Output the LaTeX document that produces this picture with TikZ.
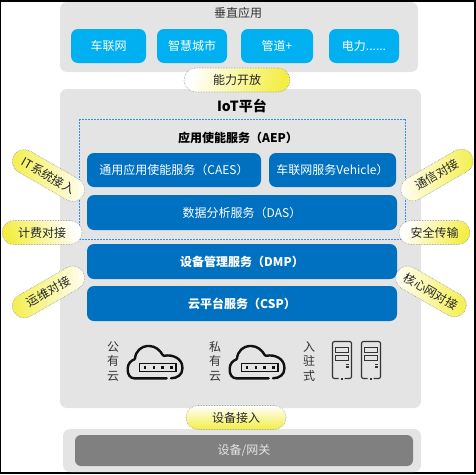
\documentclass[tikz,border=0pt]{standalone}
\usepackage{fontspec}
\setmainfont{Noto Sans CJK SC}
\usepackage{tikz}

\definecolor{panelgray}{HTML}{E4E4E4}
\definecolor{tilecyan}{HTML}{00B0F0}
\definecolor{tileblue}{HTML}{0070C0}
\definecolor{pillyellow}{HTML}{F3EE45}
\definecolor{gatewaygray}{HTML}{808080}
\definecolor{iconblack}{HTML}{111111}
\definecolor{textgray}{HTML}{333333}
\definecolor{aepblue}{RGB}{46,143,240}

\tikzset{
  panel/.style={fill=panelgray, rounded corners=7pt},
  tile/.style={fill=#1, rounded corners=7pt, text=white, inner sep=0pt, font=\fontsize{12}{14}\selectfont},
  boldtile/.style={tile=tileblue, minimum width=310pt, minimum height=35pt, font=\bfseries\fontsize{12}{14}\selectfont},
  pill/.style={draw=gray!80, densely dotted, line width=0.6pt, rounded corners=12pt, inner sep=0pt,
    minimum height=24pt, text=black!85, font=\fontsize{12}{14}\selectfont},
  cloudicon/.pic={
    \draw[iconblack, line width=2.4pt, line cap=round, rounded corners=1pt]
      (39.7,33.3) -- (8,33.3) .. controls (3,33.3) and (0.7,29) .. (0.7,24.3)
      .. controls (0.7,19) and (4,15.5) .. (8,14.3)
      .. controls (8.5,6) and (15,1) .. (21.3,1)
      .. controls (28,1) and (33,5) .. (36.3,11)
      .. controls (46,9) and (55.3,14) .. (55.3,23)
      .. controls (55.3,29) and (51,33.3) .. (44,33.3);
    \draw[iconblack, line width=1.4pt] (12.3,18.3) rectangle (49,26.7);
    \foreach \dotx in {18,27,35.7,44.7} {
      \fill[iconblack] (\dotx-1.3,21.2) rectangle (\dotx+1.3,23.8);
    }
  },
  servericon/.pic={
    \draw[gray!40!black, line width=1.2pt, rounded corners=2pt]
      (6,37) -- (0,37) -- (0,0) -- (19,0) -- (19,37) -- (12,37);
    \draw[gray!40!black, line width=0.9pt] (3.3,5.7) rectangle (16,11);
    \draw[gray!40!black, line width=0.9pt] (3.3,13.7) rectangle (16,19);
    \fill[gray!40!black] (13.5,22) rectangle (16,23.5);
    \fill[gray!40!black] (13.5,24.7) rectangle (16,26.2);
    \fill[gray!40!black] (8,36) rectangle (10,38);
  },
}

\begin{document}
\begin{tikzpicture}[x=1pt, y=-1pt]
\useasboundingbox (0,0) rectangle (476,474);

% Frame
\draw[black, line width=1.5pt] (0.5,0.8) rectangle (475.2,473);

% Top panel
\fill[panel] (60,2) rectangle (418,72);
\node[text=textgray, font=\fontsize{12}{14}\selectfont] (apptitle) at (238,13) {垂直应用};
\foreach \cx/\tw/\nm/\lbl in {108.5/75/car/车联网, 192/70/city/智慧城市, 277/72/pipe/管道+} {
  \node[tile=tilecyan, minimum width=\tw pt, minimum height=34pt] (\nm) at (\cx,46) {\lbl};
}
\node[tile=tilecyan, minimum width=70pt, minimum height=34pt] (power) at (364,46) {电力......};

% IoT panel
\fill[panel] (60,89) rectangle (421,408);
\node[font=\bfseries\fontsize{14}{16}\selectfont] (iottitle) at (242,106) {IoT平台};

% AEP frame, dash by dash
\foreach \dx in {79,82,...,403} {
  \fill[aepblue] (\dx,118.6) rectangle (\dx+2,119.6);
  \fill[aepblue] (\dx,238.6) rectangle (\dx+2,239.6);
}
\foreach \dy in {119,122,...,238} {
  \fill[aepblue] (78.6,\dy) rectangle (79.6,\dy+2);
  \fill[aepblue] (404.6,\dy) rectangle (405.6,\dy+2);
}
\node[font=\bfseries\fontsize{12}{14}\selectfont] (aeptitle) at (238,138) {应用使能服务（AEP）};

% Blue services
\node[tile=tileblue, minimum width=174pt, minimum height=34pt] (caes) at (174,170) {通用应用使能服务（CAES）};
\node[tile=tileblue, minimum width=127pt, minimum height=34pt] (vehicle) at (332.5,170) {车联网服务Vehicle）};
\node[tile=tileblue, minimum width=310pt, minimum height=35pt] (das) at (242,212.5) {数据分析服务（DAS）};
\node[boldtile] (dmp) at (242,261.5) {设备管理服务（DMP）};
\node[boldtile] (csp) at (242,303.5) {云平台服务（CSP）};

% Cloud and server icons
\foreach \cx/\nm/\lbl in {113/public/公\\有\\云, 215/private/私\\有\\云, 309/hosted/入\\驻\\式} {
  \node[text=textgray, align=center, inner sep=0pt, font=\fontsize{12}{14.5}\selectfont] (\nm) at (\cx,361.5) {\lbl};
}
\pic at (127,345) {cloudicon};
\pic at (229,345) {cloudicon};
\pic at (332.5,341.5) {servericon};
\pic at (361.5,341.5) {servericon};

% Bottom panel
\fill[panel] (63,429) rectangle (421,472);
\node[tile=gatewaygray, rounded corners=6pt, minimum width=338pt, minimum height=31pt, text=white!90!black] (gateway) at (244,450.5) {设备/网关};

% Yellow pills
\node[pill, left color=white, right color=pillyellow, shading angle=75, minimum width=106pt] (open) at (237,80) {能力开放};
\node[pill, top color=white, bottom color=pillyellow, minimum width=100pt] (access) at (236,417.5) {设备接入};
\node[pill, left color=pillyellow, right color=white, rotate=-30, minimum width=80pt] (itlink) at (48.5,175.5) {IT系统接入};
\node[pill, left color=white, right color=pillyellow, rotate=30, minimum width=80pt] (commlink) at (437,175) {通信对接};
\node[pill, left color=pillyellow, right color=white, shading angle=115, minimum width=80pt] (billing) at (42,232.5) {计费对接};
\node[pill, left color=white, right color=pillyellow, shading angle=65, minimum width=71pt] (security) at (434.5,232.5) {安全传输};
\node[pill, left color=pillyellow, right color=white, rotate=30, minimum width=80pt] (opslink) at (48.5,292) {运维对接};
\node[pill, left color=white, right color=pillyellow, rotate=-30, minimum width=78pt] (corelink) at (431,291.5) {核心网对接};

\end{tikzpicture}
\end{document}
